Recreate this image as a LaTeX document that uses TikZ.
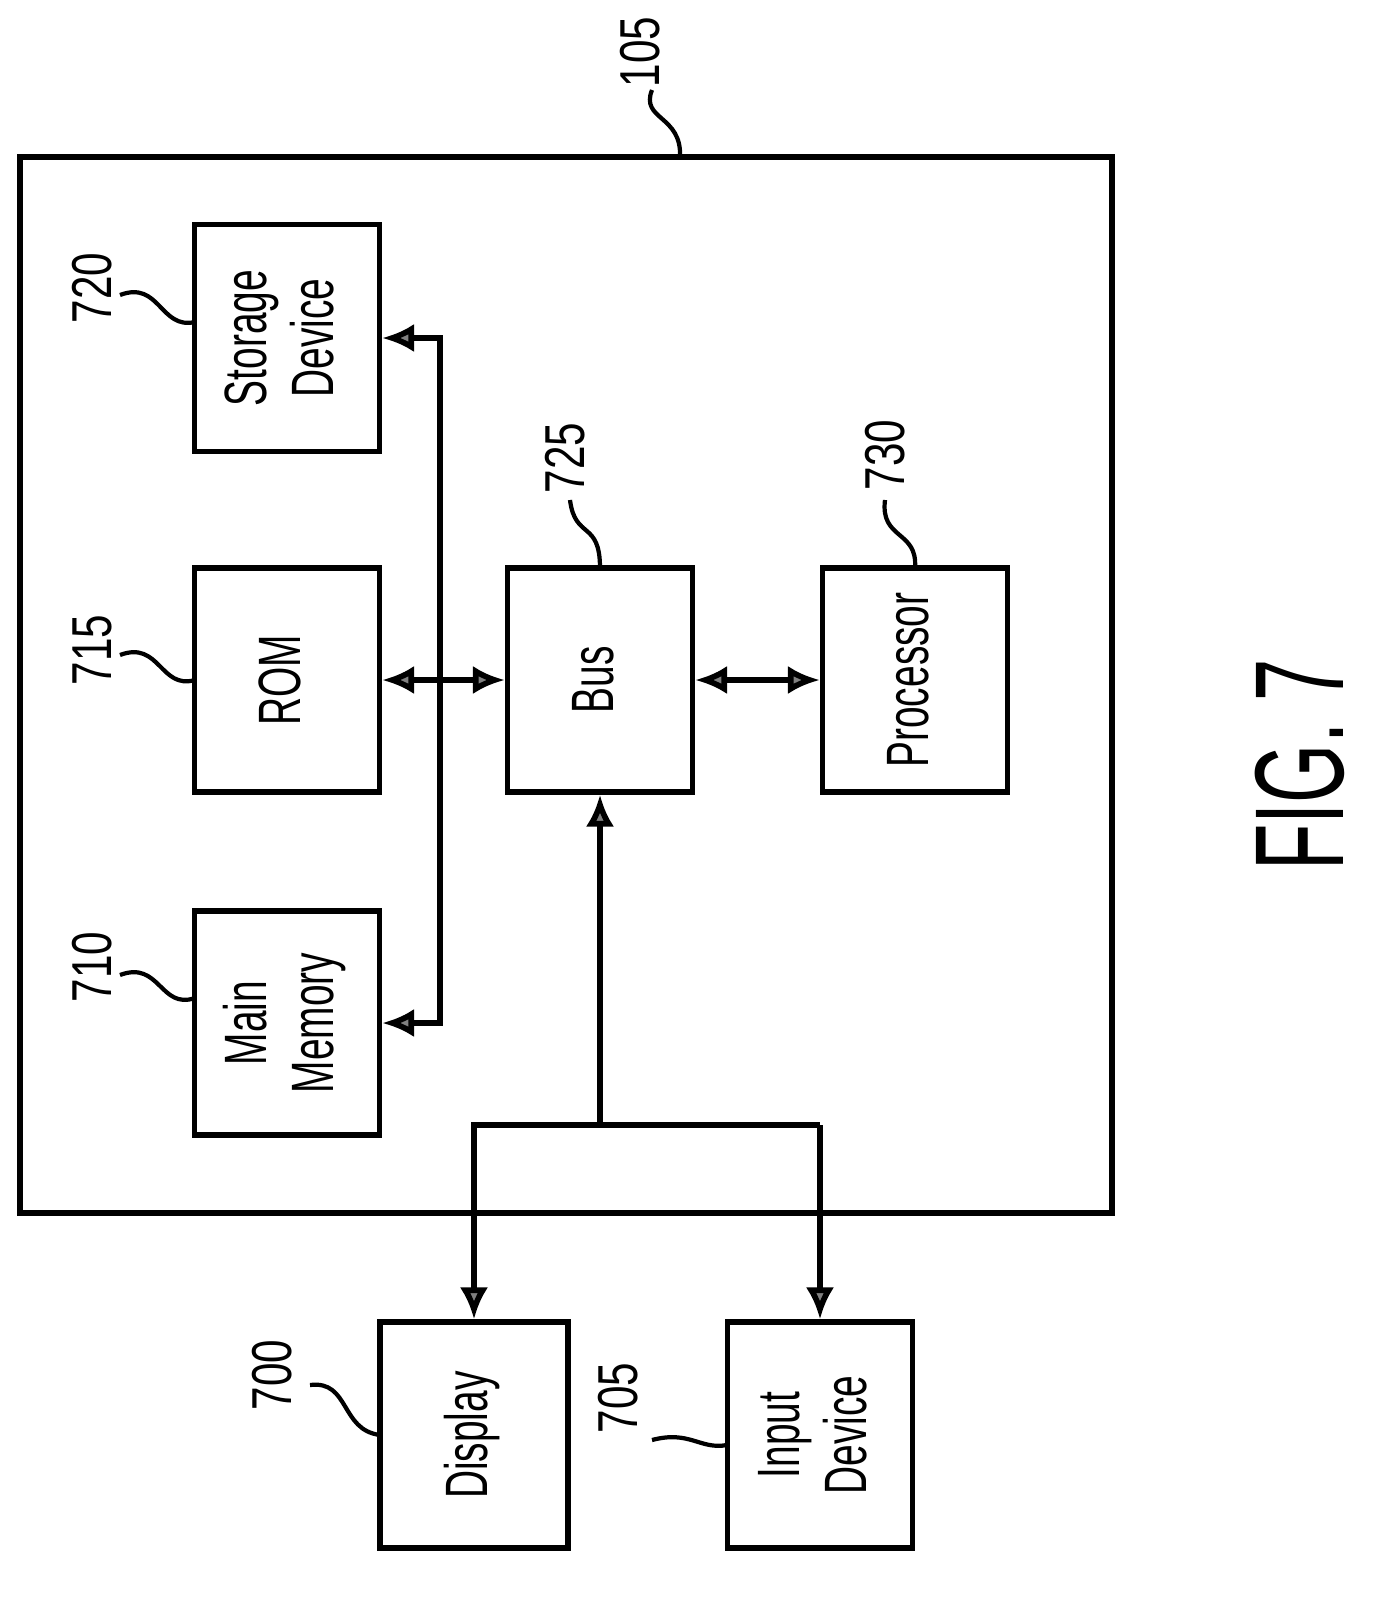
\documentclass[tikz,border=0pt]{standalone}
\usepackage{fontspec}
\setmainfont{Liberation Sans}
\usetikzlibrary{positioning, arrows.meta}
\tikzset{
  box/.style={draw, line width=1.6pt, inner sep=0pt},
  link/.style={line width=1.6pt, {Latex[length=9pt,width=8pt,fill=gray]}-{Latex[length=9pt,width=8pt,fill=gray]}},
  tip/.style={line width=1.6pt, -{Latex[length=9pt,width=8pt,fill=gray]}},
  lead/.style={line width=1.2pt},
  num/.style={rotate=90, font=\fontsize{16}{18}\selectfont}
}
\newcommand{\Rt}[1]{\rotatebox{90}{\scalebox{0.65}[1]{\fontsize{17}{19}\selectfont\begin{tabular}{c}#1\end{tabular}}}}
\newcommand{\Nm}[1]{\scalebox{0.75}[1]{#1}}
\begin{document}
\begin{tikzpicture}[x=0.01cm, y=-0.01cm]
    \useasboundingbox (0,0) rectangle (1394,1606);
    % outer box
    \draw[line width=1.6pt] (20,157) rectangle (1112,1213);
    % blocks
    \node[box, minimum width=1.85cm, minimum height=2.27cm] (store) at (287,338) {\Rt{Storage\\Device}};
    \node[box, minimum width=1.85cm, minimum height=2.24cm] (rom) at (287,680) {\Rt{ROM}};
    \node[box, minimum width=1.85cm, minimum height=2.24cm] (mem) at (287,1023) {\Rt{Main\\Memory}};
    \node[box, minimum width=1.85cm, minimum height=2.24cm] (bus) at (600,680) {\Rt{Bus}};
    \node[box, minimum width=1.85cm, minimum height=2.24cm] (cpu) at (915,680) {\Rt{Processor}};
    \node[box, minimum width=1.88cm, minimum height=2.26cm] (disp) at (474,1435) {\Rt{Display}};
    \node[box, minimum width=1.85cm, minimum height=2.26cm] (inp) at (820,1435) {\Rt{Input\\Device}};
    % connectors
    \coordinate (v) at (440,680);
    \draw[link] (store.east) -- (store.east -| v) -- (mem.east -| v) -- (mem.east);
    \draw[link] (rom) -- (bus);
    \draw[link] (bus) -- (cpu);
    \coordinate (j) at (600,1125);
    \draw[tip] (j) -- (bus.south);
    \draw[tip] (j) -- (j -| disp) -- (disp.north);
    \draw[line width=1.6pt] (j) -- (j -| inp);
    \draw[tip] (j -| inp) -- (inp.north);
    % reference numerals
    \node[num] (n105) at (640,52) {\Nm{105}};
    \draw[lead] (652,90) .. controls (640,120) and (682,115) .. (680,157);
    \node[num] (n720) at (92,288) {\Nm{720}};
    \draw[lead] (120,295) .. controls (160,280) and (160,330) .. (195,322);
    \node[num] (n715) at (92,650) {\Nm{715}};
    \draw[lead] (120,655) .. controls (160,640) and (160,690) .. (195,680);
    \node[num] (n710) at (92,967) {\Nm{710}};
    \draw[lead] (120,975) .. controls (160,960) and (160,1010) .. (195,998);
    \node[num] (n725) at (565,458) {\Nm{725}};
    \draw[lead] (570,500) .. controls (575,540) and (600,520) .. (600,568);
    \node[num] (n730) at (885,455) {\Nm{730}};
    \draw[lead] (885,500) .. controls (880,540) and (918,530) .. (915,568);
    \node[num] (n700) at (272,1375) {\Nm{700}};
    \draw[lead] (310,1385) .. controls (350,1380) and (340,1430) .. (380,1435);
    \node[num] (n705) at (618,1398) {\Nm{705}};
    \draw[lead] (652,1440) .. controls (690,1430) and (700,1450) .. (727,1445);
    \node[rotate=90, font=\fontsize{36}{40}\selectfont] (fig) at (1300,765) {\scalebox{0.6}[1]{FIG. 7}};
\end{tikzpicture}
\end{document}
